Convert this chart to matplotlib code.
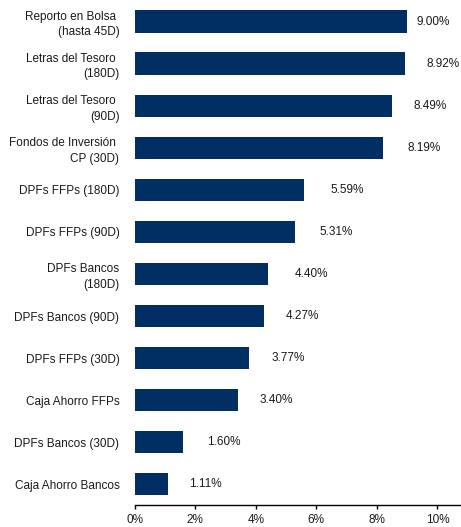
import numpy as np
import matplotlib
matplotlib.use("Agg")
import matplotlib.pyplot as plt
from matplotlib.ticker import FuncFormatter

plt.rcParams['font.family'] = ['Liberation Sans', 'DejaVu Sans']

# data (top to bottom)
categories = [
    "Reporto en Bolsa \n(hasta 45D)",
    "Letras del Tesoro \n(180D)",
    "Letras del Tesoro \n(90D)",
    "Fondos de Inversión \nCP (30D)",
    "DPFs FFPs (180D)",
    "DPFs FFPs (90D)",
    "DPFs Bancos\n(180D)",
    "DPFs Bancos (90D)",
    "DPFs FFPs (30D)",
    "Caja Ahorro FFPs",
    "DPFs Bancos (30D)",
    "Caja Ahorro Bancos",
]
rates = [9.00, 8.92, 8.49, 8.19, 5.59, 5.31, 4.40, 4.27, 3.77, 3.40, 1.60, 1.11]
x_ticks = [0, 2, 4, 6, 8, 10]

# gap between bar end and its value label, in points (reference is uneven)
label_gaps = [7, 16, 16, 18, 19, 17, 19, 16, 16, 16, 17, 15]

bar_color = "#022f63"
text_color = "#1a1a1a"

fig = plt.figure(figsize=(4.61, 5.27), dpi=100)
ax = fig.add_axes([0.2922, 0.0415, 0.7078, 0.957])

y = np.arange(len(categories))
ax.barh(y, rates, height=0.54, color=bar_color)

for yi, v, g in zip(y, rates, label_gaps):
    ax.annotate(f"{v:.2f}%", xy=(v, yi), xytext=(g, 0), textcoords="offset points",
                ha="left", va="center", fontsize=8.5, color=text_color)

ax.set_yticks(y)
ax.set_yticklabels(categories, fontsize=8.5, color=text_color, linespacing=1.35)
ax.set_ylim(len(categories) - 0.5, -0.5)
ax.set_xlim(0, 10.78)
ax.set_xticks(x_ticks)
ax.xaxis.set_major_formatter(FuncFormatter(lambda v, p: f"{v:.0f}%"))

for s in ["top", "right", "left"]:
    ax.spines[s].set_visible(False)
ax.spines["bottom"].set_linewidth(1.0)
ax.spines["bottom"].set_color("black")

ax.tick_params(axis="y", length=0, pad=11)
ax.tick_params(axis="x", length=3, width=1, pad=3.5, labelsize=8.5, labelcolor=text_color)

fig.savefig("out.png", dpi=100)
